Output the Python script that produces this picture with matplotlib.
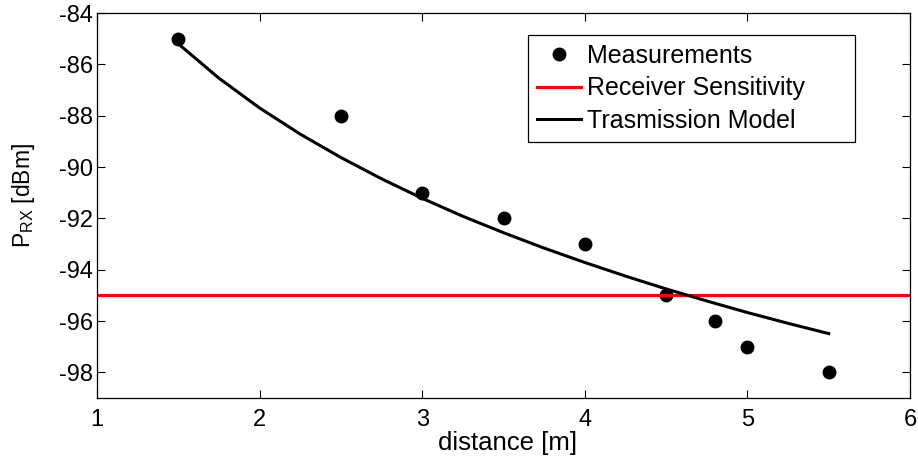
import numpy as np
import matplotlib
matplotlib.use('Agg')
import matplotlib.pyplot as plt

plt.rcParams['font.family'] = ['Liberation Sans', 'DejaVu Sans']
plt.rcParams['mathtext.fontset'] = 'custom'
plt.rcParams['mathtext.rm'] = 'Liberation Sans'
plt.rcParams['mathtext.it'] = 'Liberation Sans:italic'
plt.rcParams['axes.unicode_minus'] = False

# measured points
dist_meas = [1.5, 2.5, 3.0, 3.5, 4.0, 4.5, 4.8, 5.0, 5.5]
prx_meas = [-85, -88, -91, -92, -93, -95, -96, -97, -98]

# receiver sensitivity
sensitivity = -95

# transmission model curve
dist_model = [1.5, 1.75, 2.0, 2.25, 2.5, 2.75, 3.0, 3.25, 3.5, 3.75,
              4.0, 4.25, 4.5, 4.75, 5.0, 5.25, 5.5]
prx_model = [-85.2, -86.54, -87.7, -88.72, -89.63, -90.46, -91.22, -91.92,
             -92.56, -93.16, -93.72, -94.25, -94.75, -95.22, -95.67, -96.09, -96.49]

fig = plt.figure(figsize=(9.18, 4.61), dpi=100)
ax = fig.add_subplot(111)
fig.subplots_adjust(left=97/918, right=910/918, top=1-13/461, bottom=1-398/461)

ax.plot(dist_meas, prx_meas, 'o', color='black', markersize=9, label='Measurements')
ax.axhline(sensitivity, color='red', lw=2.2, label='Receiver Sensitivity')
ax.plot(dist_model, prx_model, color='black', lw=2.2, label='Trasmission Model')

ax.set_xlim(1, 6)
ax.set_ylim(-99, -84)
ax.set_xticks([1, 2, 3, 4, 5, 6])
ax.set_yticks(np.arange(-98, -83, 2))
ax.tick_params(direction='in', top=True, right=True, length=6, width=0.8,
               labelsize=17)
ax.tick_params(axis='x', pad=8)
ax.tick_params(axis='y', pad=3)
for s in ax.spines.values():
    s.set_linewidth(0.9)

ax.set_xlabel('distance [m]', fontsize=18.5)
ax.xaxis.set_label_coords(0.505, -0.086)
ax.set_ylabel(r'P$_{\rm RX}$ [dBm]', fontsize=16.5)
ax.yaxis.set_label_coords(-0.0738, 0.525)

# legend box stretched to the MATLAB-like width, entries left-aligned
leg = ax.legend(loc='upper left', bbox_to_anchor=(0.530, 0.0, 0.402, 0.943),
                mode='expand', borderaxespad=0,
                fontsize=18, fancybox=False, framealpha=1, edgecolor='black',
                handlelength=1.76, handletextpad=0.25, labelspacing=0.35,
                borderpad=0.35)
leg.get_frame().set_linewidth(0.9)

plt.savefig('out.png', dpi=100)
